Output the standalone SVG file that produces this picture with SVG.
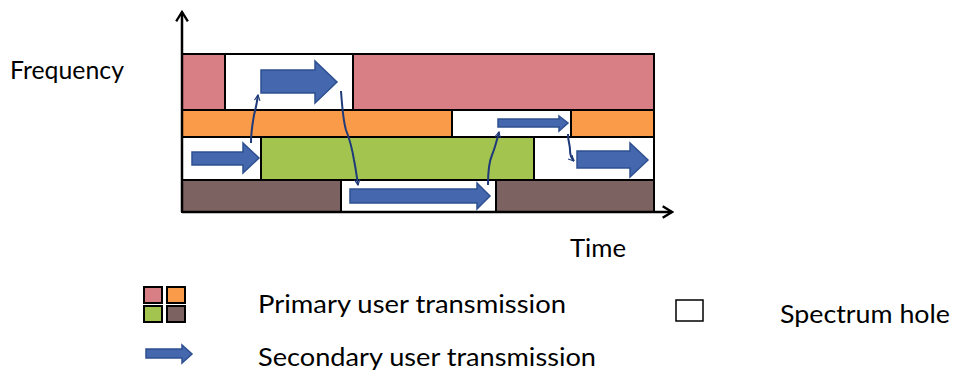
<svg xmlns="http://www.w3.org/2000/svg" width="956" height="372" viewBox="0 0 956 372">
  <defs>
    <style>
      .lbl { font-family: Lato, "Open Sans", "Liberation Sans", sans-serif; font-size: 25px; fill: #000; }
      .blk { stroke: #000; stroke-width: 2; }
      .pu1 { fill: #D77F85; }
      .pu2 { fill: #F99B48; }
      .pu3 { fill: #A3C550; }
      .pu4 { fill: #7D6262; }
      .hole { fill: #FFFFFF; }
      .su { fill: #4467AE; stroke: #2E5090; stroke-width: 1.5; stroke-linejoin: miter; }
      .hop { fill: none; stroke: #1F3A7A; stroke-width: 2; }
      .axis { stroke: #000; stroke-width: 2.5; fill: none; }
    </style>
    <marker id="hopHead" viewBox="0 0 10 10" refX="9" refY="5" markerWidth="7" markerHeight="7" orient="auto" markerUnits="userSpaceOnUse">
      <path d="M1,1 L9,5 L1,9" fill="none" stroke="#1F3A7A" stroke-width="1.6"/>
    </marker>
    <marker id="axisHead" viewBox="0 0 12 12" refX="10" refY="6" markerWidth="14" markerHeight="14" orient="auto" markerUnits="userSpaceOnUse">
      <path d="M2,1 L10,6 L2,11" fill="none" stroke="#000" stroke-width="2"/>
    </marker>
  </defs>

  <!-- channel occupancy grid -->
  <g id="band1">
    <rect class="blk pu1" x="182" y="54" width="43" height="56"/>
    <rect class="blk hole" x="225" y="54" width="128" height="56"/>
    <rect class="blk pu1" x="353" y="54" width="301" height="56"/>
  </g>
  <g id="band2">
    <rect class="blk pu2" x="182" y="110" width="270" height="27"/>
    <rect class="blk hole" x="452" y="110" width="119" height="27"/>
    <rect class="blk pu2" x="571" y="110" width="83" height="27"/>
  </g>
  <g id="band3">
    <rect class="blk hole" x="182" y="137" width="79" height="43"/>
    <rect class="blk pu3" x="261" y="137" width="273" height="43"/>
    <rect class="blk hole" x="534" y="137" width="120" height="43"/>
  </g>
  <g id="band4">
    <rect class="blk pu4" x="182" y="180" width="159" height="32"/>
    <rect class="blk hole" x="341" y="180" width="155" height="32"/>
    <rect class="blk pu4" x="496" y="180" width="158" height="32"/>
  </g>

  <!-- secondary user transmissions -->
  <g id="su1"><path class="su" d="M261,70 H315 V61 L337,82 L315,103 V93 H261 Z"/></g>
  <g id="su2"><path class="su" d="M192,152 H243 V143 L259,158 L243,173 V165 H192 Z"/></g>
  <g id="su3"><path class="su" d="M350,189 H477 V183 L490,196 L477,209 V203 H350 Z"/></g>
  <g id="su4"><path class="su" d="M498,119 H559 V116 L568,123 L559,131 V127 H498 Z"/></g>
  <g id="su5"><path class="su" d="M577,151 H630 V143 L648,160 L630,177 V168 H577 Z"/></g>

  <!-- axes -->
  <g id="axes">
    <path class="axis" d="M182,212 V12" marker-end="url(#axisHead)"/>
    <path class="axis" d="M182,212 H672" marker-end="url(#axisHead)"/>
  </g>

  <!-- spectrum hops -->
  <g id="hops">
    <path class="hop" d="M251,143 C251,130 253,122 254,115 C256,108 257,102 258,95" marker-end="url(#hopHead)"/>
    <path class="hop" d="M341,91 C342,105 343,120 346,130 C350,140 352,148 354,160 C356,170 357,178 358,185" marker-end="url(#hopHead)"/>
    <path class="hop" d="M488,185 C488,172 489,162 492,155 C495,148 497,140 499,132" marker-end="url(#hopHead)"/>
    <path class="hop" d="M568,134 C568,142 570,144 570,150 C570,155 571,158 574,161" marker-end="url(#hopHead)"/>
  </g>

  <!-- axis labels -->
  <text class="lbl" x="10" y="79" textLength="114" lengthAdjust="spacingAndGlyphs">Frequency</text>
  <text class="lbl" x="570" y="257" textLength="56" lengthAdjust="spacingAndGlyphs">Time</text>

  <!-- legend -->
  <g id="legend-primary">
    <rect class="blk pu1" x="144" y="287" width="18" height="16"/>
    <rect class="blk pu2" x="167" y="287" width="18" height="16"/>
    <rect class="blk pu3" x="144" y="306" width="18" height="16"/>
    <rect class="blk pu4" x="167" y="306" width="18" height="16"/>
    <text class="lbl" x="258" y="313" textLength="308" lengthAdjust="spacingAndGlyphs">Primary user transmission</text>
  </g>
  <g id="legend-secondary">
    <path class="su" d="M146,349 H182 V345 L192,354 L182,363 V358 H146 Z"/>
    <text class="lbl" x="258" y="366" textLength="338" lengthAdjust="spacingAndGlyphs">Secondary user transmission</text>
  </g>
  <g id="legend-hole">
    <rect x="676" y="300" width="27" height="21" fill="#fff" stroke="#000" stroke-width="1.5"/>
    <text class="lbl" x="780" y="323" textLength="170" lengthAdjust="spacingAndGlyphs">Spectrum hole</text>
  </g>
</svg>
